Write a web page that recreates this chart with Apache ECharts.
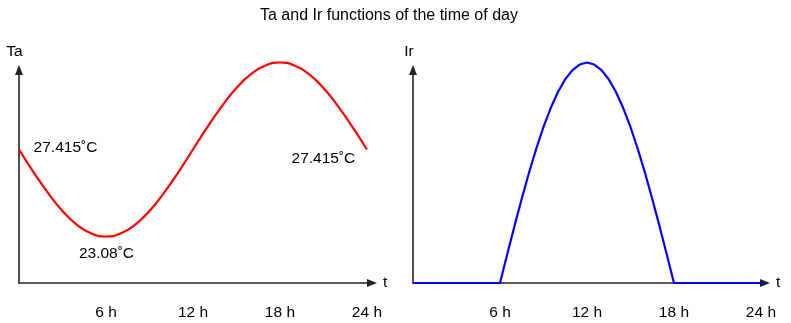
<!DOCTYPE html>
<html>
<head>
<meta charset="utf-8">
<script src="https://cdn.jsdelivr.net/npm/echarts@6/dist/echarts.min.js"></script>
<style>
  html, body { margin: 0; padding: 0; background: #fff; }
  #chart { width: 791px; height: 323px; }
</style>
</head>
<body>
<div id="chart"></div>
<script>
// hours of the day, tick labels
const hours = [0, 1, 2, 3, 4, 5, 6, 7, 8, 9, 10, 11, 12, 13, 14, 15, 16, 17, 18, 19, 20, 21, 22, 23, 24];
const tickHours = [6, 12, 18, 24];

// ambient temperature Ta (°C)
const taValues = [27.415, 26.29, 25.25, 24.35, 23.66, 23.23, 23.08, 23.23, 23.66, 24.35, 25.25, 26.29,
                  27.415, 28.54, 29.58, 30.48, 31.17, 31.6, 31.75, 31.6, 31.17, 30.48, 29.58, 28.54, 27.415];

// irradiance Ir (W/m²), read every half hour off the right curve
const irHours = [0, 6, 6.5, 7, 7.5, 8, 8.5, 9, 9.5, 10, 10.5, 11, 11.5, 12,
                 12.5, 13, 13.5, 14, 14.5, 15, 15.5, 16, 16.5, 17, 17.5, 18, 24.2];
const irValues = [0, 0, 102, 202, 298, 390, 475, 552, 619, 676, 721, 753, 773, 780.1,
                  773, 753, 721, 676, 619, 552, 475, 390, 298, 202, 102, 0, 0];

// annotated points
const taNotes = [
  { x: 0, y: 27.415, text: '27.415˚C', offset: [46.5, -2] },
  { x: 6, y: 23.08, text: '23.08˚C', offset: [0.5, 17.5] },
  { x: 18, y: 31.75, text: '31.75˚C', offset: [3, -18.5] },
  { x: 24, y: 27.415, text: '27.415˚C', offset: [-43.5, 9] }
];
const irNotes = [
  { x: 12, y: 780.1, text: '780.1 W/m²', offset: [2, -13] }
];

const font = 'Liberation Sans, Arial, sans-serif';
const axisColor = '#222';

const chart = echarts.init(document.getElementById('chart'));

function xAxisFor(gridIndex, max) {
  return {
    type: 'value',
    gridIndex: gridIndex,
    min: 0,
    max: max,
    interval: 6,
    name: 't',
    nameLocation: 'end',
    nameGap: 11,
    nameTextStyle: { color: '#000', fontSize: 15.5, fontFamily: font, verticalAlign: 'middle' },
    axisLine: {
      show: true,
      symbol: ['none', 'triangle'],
      symbolSize: [8, 10],
      lineStyle: { color: axisColor, width: 1.6 }
    },
    axisTick: { show: false },
    splitLine: { show: false },
    axisLabel: {
      margin: 22,
      color: '#000',
      fontSize: 15.5,
      fontFamily: font,
      formatter: v => (tickHours.indexOf(v) >= 0 ? v + ' h' : '')
    }
  };
}

function yAxisFor(gridIndex, min, max, name, pad) {
  return {
    type: 'value',
    gridIndex: gridIndex,
    min: min,
    max: max,
    name: name,
    nameLocation: 'end',
    nameGap: 10,
    nameTextStyle: { color: '#000', fontSize: 15.5, fontFamily: font, padding: [0, pad, 0, 0] },
    axisLine: {
      show: true,
      symbol: ['none', 'triangle'],
      symbolSize: [8, 10],
      lineStyle: { color: axisColor, width: 1.6 }
    },
    axisTick: { show: false },
    axisLabel: { show: false },
    splitLine: { show: false }
  };
}

function notePoints(notes) {
  return {
    symbol: 'circle',
    symbolSize: 0,
    silent: true,
    data: notes.map(n => ({
      coord: [n.x, n.y],
      label: {
        show: true,
        position: 'inside',
        offset: n.offset,
        formatter: n.text,
        color: '#000',
        fontSize: 15.5,
        fontFamily: font
      }
    }))
  };
}

chart.setOption({
  animation: false,
  backgroundColor: '#fff',
  title: {
    text: 'Ta and Ir functions of the time of day',
    left: 255,
    top: 3,
    textStyle: { color: '#000', fontSize: 16, fontWeight: 'normal', fontFamily: font }
  },
  grid: [
    { left: 19, top: 70, width: 353, bottom: 40 },
    { left: 413, top: 70, width: 352, bottom: 40 }
  ],
  xAxis: [xAxisFor(0, 24.35), xAxisFor(1, 24.28)],
  yAxis: [yAxisFor(0, 20.763, 31.376, 'Ta', 9), yAxisFor(1, 0, 753.6, 'Ir', 8)],
  series: [
    {
      name: 'Ta',
      type: 'line',
      xAxisIndex: 0,
      yAxisIndex: 0,
      clip: false,
      smooth: true,
      showSymbol: false,
      lineStyle: { color: '#ff0000', width: 2.2 },
      data: hours.map((h, i) => [h, taValues[i]]),
      markPoint: notePoints(taNotes)
    },
    {
      name: 'Ir',
      type: 'line',
      xAxisIndex: 1,
      yAxisIndex: 1,
      clip: false,
      showSymbol: false,
      lineStyle: { color: '#0000ff', width: 2.2 },
      data: irHours.map((h, i) => [h, irValues[i]]),
      markPoint: notePoints(irNotes)
    }
  ]
});
</script>
</body>
</html>
